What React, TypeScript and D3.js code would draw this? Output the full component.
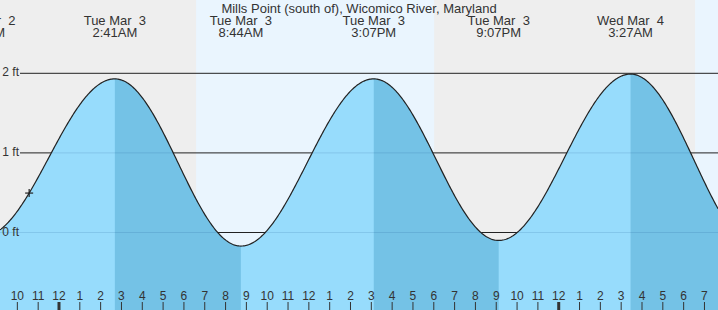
import React from "react";
import * as d3 from "d3";

const W = 718;
const H = 310;

const TITLE = "Mills Point (south of), Wicomico River, Maryland";

// Tide extremes (local time) and heights in feet
const extremeTimes = [
  "2026-03-02 20:20",
  "2026-03-03 02:41",
  "2026-03-03 08:44",
  "2026-03-03 15:07",
  "2026-03-03 21:07",
  "2026-03-04 03:27",
  "2026-03-04 09:36",
];
const extremeHeights = [-0.05, 1.93, -0.17, 1.93, -0.1, 1.99, -0.2];

// Daylight periods
const dayStarts = ["2026-03-03 06:35", "2026-03-04 06:33"];
const dayEnds = ["2026-03-03 18:01", "2026-03-04 09:00"];

const viewStart = "2026-03-02 21:10";
const viewEnd = "2026-03-04 07:39";

const ftTicks = [0, 1, 2];
const nowTime = "2026-03-02 22:34";

const parse = d3.timeParse("%Y-%m-%d %H:%M");
const fmtDay = d3.timeFormat("%a %b %e");
const fmtTime = d3.timeFormat("%-I:%M%p");
const fmtHour = d3.timeFormat("%-I");

export default function App() {
  const t0 = parse(viewStart)!;
  const t1 = parse(viewEnd)!;
  const x = d3.scaleTime().domain([t0, t1]).range([0, W]);
  const y = d3.scaleLinear().domain([0, 2]).range([232.5, 73.3]);

  const ext = extremeTimes.map((s, i) => ({ t: parse(s)!, v: extremeHeights[i] }));

  const tideAt = (t: Date) => {
    const ms = +t;
    for (let i = 0; i < ext.length - 1; i++) {
      const a = ext[i], b = ext[i + 1];
      if (ms >= +a.t && ms <= +b.t) {
        const f = (ms - +a.t) / (+b.t - +a.t);
        return a.v + (b.v - a.v) * (1 - Math.cos(Math.PI * f)) / 2;
      }
    }
    return ext[ext.length - 1].v;
  };

  const samples: { t: Date; v: number }[] = [];
  for (let px = 0; px <= W; px += 1) {
    const t = x.invert(px);
    samples.push({ t, v: tideAt(t) });
  }
  ext.forEach((e) => {
    if (e.t >= t0 && e.t <= t1) samples.push({ t: e.t, v: e.v });
  });
  samples.sort((a, b) => +a.t - +b.t);

  const area = d3
    .area<{ t: Date; v: number }>()
    .x((d) => x(d.t))
    .y0(H)
    .y1((d) => y(d.v));
  const line = d3
    .line<{ t: Date; v: number }>()
    .x((d) => x(d.t))
    .y((d) => y(d.v));

  const falling: { a: Date; b: Date }[] = [];
  for (let i = 0; i < ext.length - 1; i++) {
    if (ext[i].v > ext[i + 1].v) falling.push({ a: ext[i].t, b: ext[i + 1].t });
  }

  const hours = d3.timeHour.range(d3.timeHour.ceil(t0), t1);
  const font = "'Liberation Sans', Arial, sans-serif";
  const nt = parse(nowTime)!;
  const nx = x(nt);
  const ny = y(tideAt(nt));

  const visibleExt = ext.filter((e) => x(e.t) > -60 && x(e.t) < W + 10);

  return (
    <svg
      width={W}
      height={H}
      style={{ position: "absolute", left: 0, top: 0, display: "block" }}
      fontFamily={font}
    >
      <defs>
        <clipPath id="water">
          <path d={area(samples) || ""} />
        </clipPath>
      </defs>
      <rect x={0} y={0} width={W} height={H} fill="#eeeeee" />
      {dayStarts.map((s, i) => {
        const a = x(parse(s)!);
        const b = x(parse(dayEnds[i])!);
        return <rect key={s} x={a} y={0} width={b - a} height={H} fill="#eaf5fe" />;
      })}
      {ftTicks.map((f) => (
        <line key={f} x1={20} x2={W} y1={y(f)} y2={y(f)} stroke="#222" strokeWidth={1} />
      ))}
      <path d={area(samples) || ""} fill="#97dcfc" />
      <g clipPath="url(#water)">
        {falling.map((s, i) => (
          <rect
            key={i}
            x={x(s.a)}
            y={0}
            width={x(s.b) - x(s.a)}
            height={H}
            fill="#74c2e6"
          />
        ))}
        {ftTicks.map((f) => (
          <line key={f} x1={0} x2={W} y1={y(f)} y2={y(f)} stroke="rgba(0,60,120,0.13)" strokeWidth={1} />
        ))}
      </g>
      <path d={line(samples) || ""} fill="none" stroke="#222" strokeWidth={1.2} />
      {ftTicks.map((f) => (
        <text
          key={f}
          x={19}
          y={y(f)}
          textAnchor="end"
          dominantBaseline="middle"
          fontSize={12}
          fill="#333"
        >
          {`${f} ft`}
        </text>
      ))}
      <g stroke="#222" strokeWidth={1.2}>
        <line x1={nx - 4} x2={nx + 4} y1={ny} y2={ny} />
        <line x1={nx} x2={nx} y1={ny - 4} y2={ny + 4} />
      </g>
      <text x={W / 2} y={12.5} textAnchor="middle" fontSize={13} fill="#333">
        {TITLE}
      </text>
      {visibleExt.map((e, i) => (
        <g key={i} fill="#333" fontSize={13} textAnchor="middle">
          <text x={x(e.t)} y={24.5} xmlSpace="preserve" style={{ whiteSpace: "pre" }}>
            {fmtDay(e.t)}
          </text>
          <text x={x(e.t)} y={36.5}>{fmtTime(e.t)}</text>
        </g>
      ))}
      {hours.map((h) => {
        const hx = x(h);
        const mid = h.getHours() === 0;
        return (
          <g key={+h}>
            <line
              x1={hx}
              x2={hx}
              y1={302}
              y2={H}
              stroke="#333"
              strokeWidth={mid ? 3 : 1}
            />
            <text x={hx} y={300} textAnchor="middle" fontSize={12} fill="#333">
              {fmtHour(h)}
            </text>
          </g>
        );
      })}
    </svg>
  );
}
